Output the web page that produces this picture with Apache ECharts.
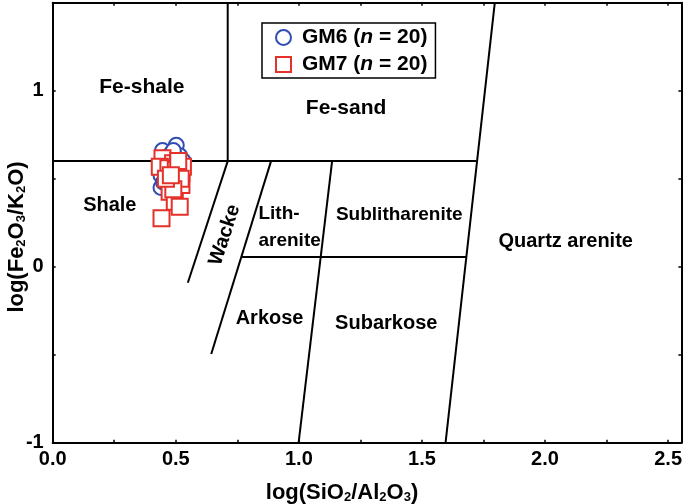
<!DOCTYPE html>
<html><head><meta charset="utf-8">
<script src="https://cdn.jsdelivr.net/npm/echarts@6/dist/echarts.min.js"></script>
<style>html,body{margin:0;padding:0;background:#fff}#c{width:685px;height:504px}</style>
</head><body><div id="c"></div>
<script>
// ---- data ----
const gm6X = [0.446,0.502,0.516,0.44,0.45,0.50,0.47,0.52,0.46,0.49,0.51,0.44,0.48,0.53,0.45,0.50,0.47,0.52,0.46,0.49];
const gm6Y = [0.66,0.69,0.63,0.45,0.50,0.62,0.60,0.58,0.55,0.57,0.52,0.52,0.64,0.60,0.48,0.50,0.46,0.55,0.62,0.66];
const gm7X = [0.446,0.489,0.523,0.462,0.482,0.523,0.475,0.496,0.516,0.442,0.435,0.509,0.529,0.47,0.50,0.52,0.49,0.46,0.51,0.48];
const gm7Y = [0.616,0.588,0.531,0.531,0.474,0.464,0.426,0.369,0.341,0.275,0.568,0.588,0.568,0.56,0.55,0.50,0.44,0.50,0.60,0.52];
// boundary segments [x1,y1,x2,y2]
const boundaries = [
  [0.711,1.5,0.711,0.6],
  [0,0.6,1.722,0.6],
  [0.711,0.6,0.549,-0.091],
  [0.887,0.6,0.644,-0.496],
  [1.135,0.6,0.999,-1.0],
  [1.796,1.5,1.596,-1.0],
  [0.768,0.055,1.679,0.055]
];
const fieldNames = ['Fe-shale','Fe-sand','Shale','Wacke','Lith-\narenite','Sublitharenite','Quartz arenite','Arkose','Subarkose'];
const fieldX = [0.362,1.192,0.232,0.699,0.836,1.408,2.084,0.881,1.355];
const fieldY = [1.021,0.90,0.35,0.18,0.226,0.293,0.145,-0.292,-0.32];
const fieldRot = [0,0,0,72,0,0,0,0,0];
const fieldSize = [21,21,20,20,19,19,20,20,20];
const xTicks = [0.0,0.5,1.0,1.5,2.0,2.5];
const yTicks = [-1,0,1];

const FONT = '"Liberation Sans", Arial, sans-serif';
const BLUE = '#2f4db3', RED = '#e5312a';

const chart = echarts.init(document.getElementById('c'), null, {renderer:'canvas'});
const isTick = (arr, v) => arr.some(t => Math.abs(t - v) < 1e-6);

const series = [];
boundaries.forEach(b => {
  series.push({type:'line', data:[[b[0],b[1]],[b[2],b[3]]], symbol:'none', silent:true,
    lineStyle:{color:'#000', width:2}, z:2, animation:false});
});
series.push({name:'GM6', type:'scatter', data:gm6X.map((x,i)=>[x,gm6Y[i]]), symbol:'circle', symbolSize:15,
  itemStyle:{color:'#fff', borderColor:BLUE, borderWidth:2, opacity:1}, z:3, animation:false});
series.push({name:'GM7', type:'scatter', data:gm7X.map((x,i)=>[x,gm7Y[i]]), symbol:'rect', symbolSize:16,
  itemStyle:{color:'#fff', borderColor:RED, borderWidth:2, opacity:1}, z:4, animation:false});
series.push({type:'scatter', symbolSize:1, silent:true, animation:false, z:5,
  itemStyle:{opacity:0},
  data: fieldNames.map((n,i)=>({name:n, value:[fieldX[i],fieldY[i]],
     label:{rotate:fieldRot[i], fontSize:fieldSize[i], align: i===4 ? 'left':'center'}})),
  label:{show:true, position:'inside', formatter:p=>p.name, color:'#000', opacity:1,
    textBorderWidth:0, textBorderColor:'transparent',
    fontFamily:FONT, fontWeight:'bold', fontSize:20, lineHeight:27}
});

const axisCommon = {
  axisLine:{show:true, onZero:false, lineStyle:{color:'#000', width:2}},
  axisTick:{inside:true, length:3, lineStyle:{color:'#000', width:1.5}},
  splitLine:{show:false}
};

const nameRich = {
  a:{fontFamily:FONT, fontWeight:'bold', fontSize:22, fill:'#000', lineHeight:28, verticalAlign:'bottom'},
  s:{fontFamily:FONT, fontWeight:'bold', fontSize:13, fill:'#000', lineHeight:22, verticalAlign:'bottom'}
};

chart.setOption({
  animation:false,
  grid:{left:52.7, right:2, top:2.7, bottom:61.3},
  xAxis:[Object.assign({type:'value', min:0, max:2.554, interval:0.25,
    axisLabel:{margin:7, color:'#000', fontFamily:FONT, fontWeight:'bold', fontSize:20,
      formatter:v=> isTick(xTicks,v) ? v.toFixed(1) : ''}
  }, axisCommon), Object.assign({type:'value', position:'top', min:0, max:2.554, interval:0.25,
    axisLabel:{show:false}}, axisCommon)],
  yAxis:[Object.assign({type:'value', min:-1, max:1.5, interval:0.5,
    axisLabel:{margin:9, color:'#000', fontFamily:FONT, fontWeight:'bold', fontSize:20,
      formatter:v=> isTick(yTicks,v) ? String(Math.round(v)) : ''}
  }, axisCommon), Object.assign({type:'value', position:'right', min:-1, max:1.5, interval:0.5,
    axisLabel:{show:false}}, axisCommon)],
  legend:{orient:'vertical', left:262, top:23, padding:[4,8,3,13], itemGap:6,
    borderColor:'#000', borderWidth:1.5, backgroundColor:'#fff',
    itemWidth:15, itemHeight:15, data:['GM6','GM7'],
    formatter: n => '{b|'+n+' (}{i|n}{b| = 20)}',
    textStyle:{padding:[0,0,0,6], rich:{
      b:{fontFamily:FONT, fontWeight:'bold', fontSize:21, color:'#000'},
      i:{fontFamily:FONT, fontWeight:'bold', fontStyle:'italic', fontSize:21, color:'#000'}}}
  },
  graphic:[
    {type:'text', x:342, y:490, style:{
      text:'{a|log(SiO}{s|2}{a|/Al}{s|2}{a|O}{s|3}{a|)}', align:'center', verticalAlign:'middle', rich:nameRich}},
    {type:'text', x:14, y:237, rotation:Math.PI/2, style:{
      text:'{a|log(Fe}{s|2}{a|O}{s|3}{a|/K}{s|2}{a|O)}', align:'center', verticalAlign:'middle', rich:nameRich}}
  ],
  series: series
});
</script></body></html>
